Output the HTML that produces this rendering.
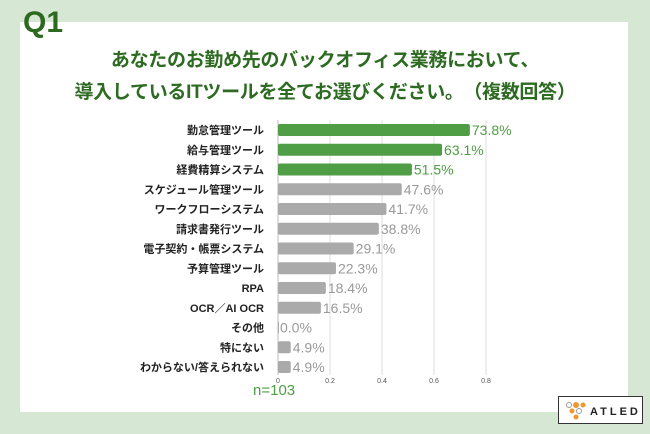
<!DOCTYPE html>
<html><head><meta charset="utf-8">
<style>
body{margin:0;width:650px;height:434px;background:#d6e8d3;font-family:"Liberation Sans","Noto Sans CJK JP",sans-serif;position:relative;overflow:hidden}
#panel{position:absolute;left:20px;top:22px;width:608px;height:390px;background:#fff}
#q1{position:absolute;left:23px;top:6px;font-size:30px;font-weight:bold;color:#2c6a1f;margin:0}
.t{position:absolute;left:0;width:650px;text-align:center;font-size:19px;font-weight:bold;color:#2e6b22;letter-spacing:-0.3px}
#logo{position:absolute;left:558px;top:396px;width:83px;height:26px;border:1.5px solid #333;background:#fff}
</style></head><body>
<div id="panel"></div>
<div id="q1">Q1</div>
<div class="t" style="top:45px">あなたのお勤め先のバックオフィス業務において、</div>
<div class="t" style="top:77px">導入しているITツールを全てお選びください。　（複数回答）</div>
<svg id="chart" width="650" height="434" style="position:absolute;left:0;top:0"></svg>
<div id="logo">
<svg width="83" height="26">
<circle cx="10" cy="8" r="2.5" fill="none" stroke="#999"/><circle cx="17" cy="8" r="3" fill="#f0962b"/><circle cx="24" cy="8" r="2.5" fill="#f0962b"/>
<circle cx="13" cy="14" r="2.5" fill="#f0962b"/><circle cx="20" cy="14" r="2.5" fill="none" stroke="#999"/><circle cx="17" cy="20" r="2.5" fill="#f0962b"/>
<text x="31" y="18" font-size="11" font-weight="bold" letter-spacing="3" fill="#222" font-family="Liberation Sans">ATLED</text></svg></div>
<script>
const categories=["勤怠管理ツール","給与管理ツール","経費精算システム","スケジュール管理ツール","ワークフローシステム","請求書発行ツール","電子契約・帳票システム","予算管理ツール","RPA","OCR／AI OCR","その他","特にない","わからない/答えられない"];
const values=[73.8,63.1,51.5,47.6,41.7,38.8,29.1,22.3,18.4,16.5,0.0,4.9,4.9];
const highlighted=[true,true,true,false,false,false,false,false,false,false,false,false,false];
const ticks=[0,0.2,0.4,0.6,0.8];
const svg=document.getElementById('chart');const NS='http://www.w3.org/2000/svg';
const x0=278,scale=260,y0=130,step=19.75,bh=12;
const xs=v=>x0+v*scale; const ys=i=>y0+i*step;
function mk(t,a){const e=document.createElementNS(NS,t);for(const k in a)e.setAttribute(k,a[k]);svg.appendChild(e);return e;}
ticks.forEach((t,i)=>{
 if(i>0){const g=mk('line',{x1:xs(t),x2:xs(t),y1:120,y2:375,stroke:'#ddd','stroke-width':1});
 
 }
 const l=mk('text',{x:xs(t),y:383,'font-size':7,fill:'#555','text-anchor':'middle'});l.textContent=String(t);
 
 
});
const ax=mk('line',{x1:x0,x2:x0,y1:120,y2:375,stroke:'#bbb','stroke-width':1});


categories.forEach((c,i)=>{
 const y=ys(i),v=values[i];const col=highlighted[i]?'#4f9d45':'#aaa';
 const r=mk('rect',{x:x0,y:y-bh/2,width:Math.max(v/100*scale,1),height:bh,rx:2,fill:col});
 
 
 const l=mk('text',{x:264,y:y+4,'font-size':11,'font-weight':'bold',fill:'#222','text-anchor':'end'});l.textContent=c;
 
 
 const vl=mk('text',{x:xs(v/100)+2,y:y+5,'font-size':14,fill:highlighted[i]?'#4f9d45':'#999'});vl.textContent=v.toFixed(1)+'%';
 
 
});
const n=mk('text',{x:253,y:395,'font-size':15,fill:'#4f9d45'});n.textContent='n=103';


</script>
</body></html>
